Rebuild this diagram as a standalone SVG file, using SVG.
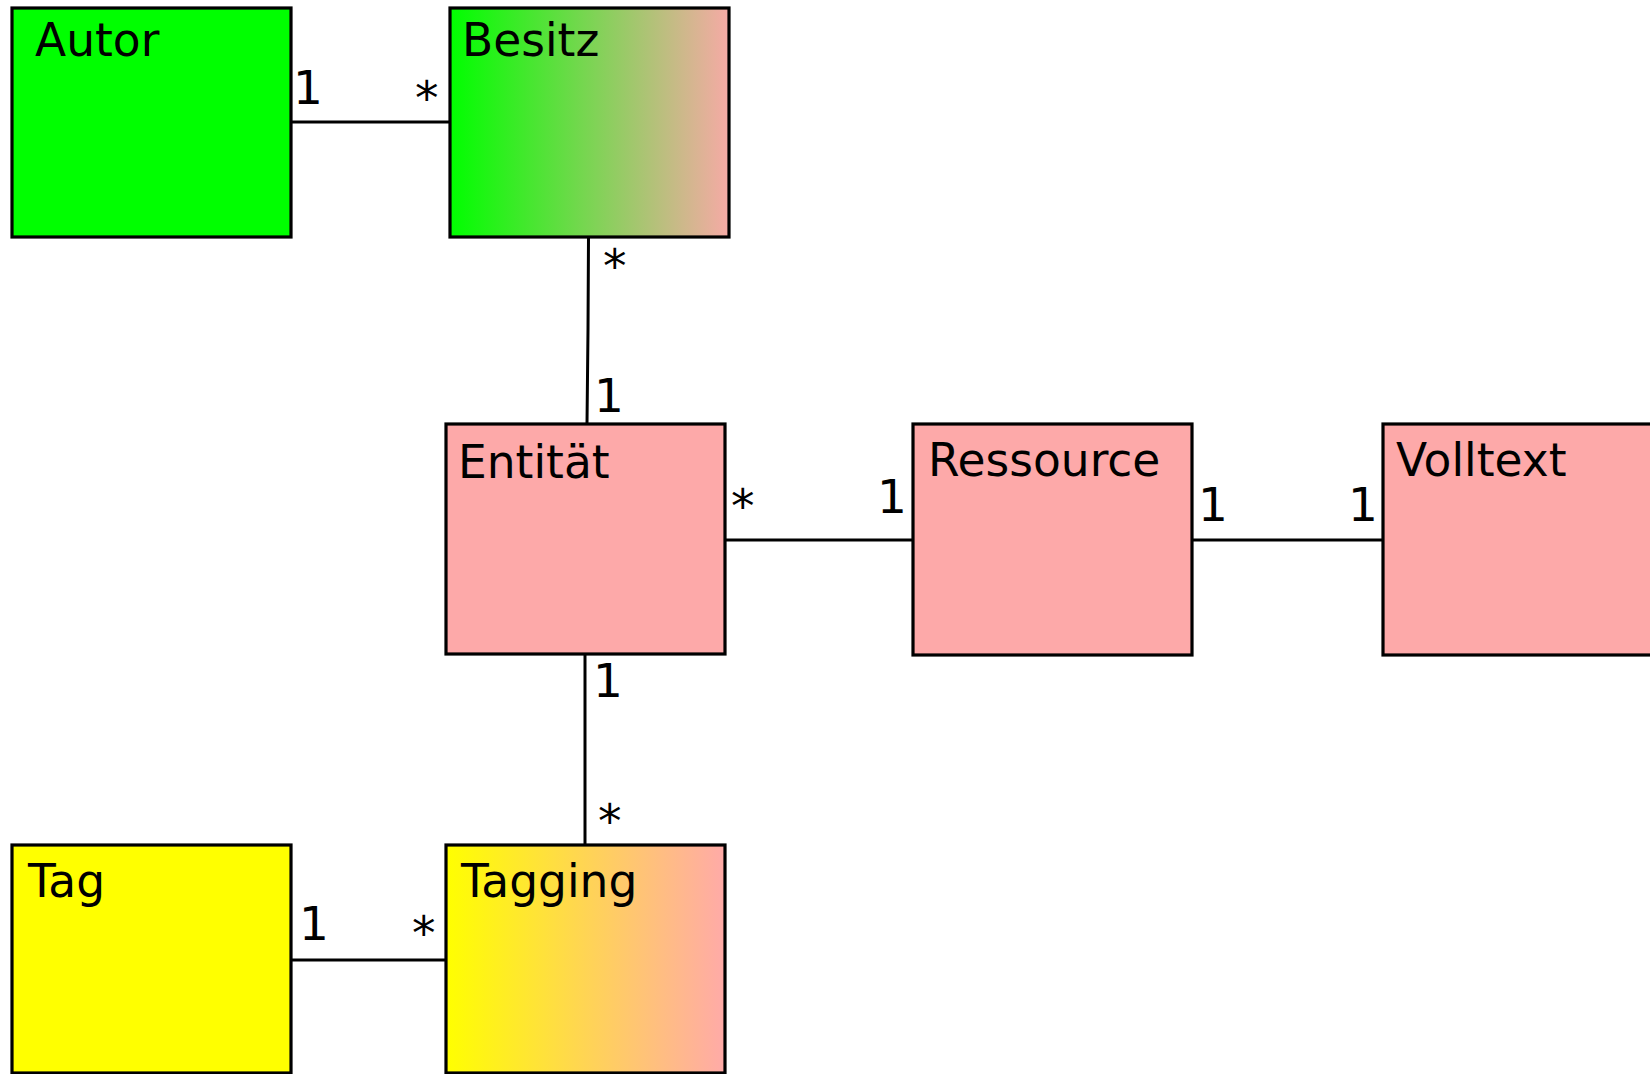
<svg xmlns="http://www.w3.org/2000/svg" width="1650" height="1074" viewBox="0 0 1650 1074">
  <defs>
    <linearGradient id="gBesitz" x1="0" y1="0" x2="1" y2="0">
      <stop offset="0" stop-color="#00ff00"/>
      <stop offset="1" stop-color="#f6aaa6"/>
    </linearGradient>
    <linearGradient id="gTagging" x1="0" y1="0" x2="1" y2="0">
      <stop offset="0" stop-color="#ffff00"/>
      <stop offset="1" stop-color="#ffaaa8"/>
    </linearGradient>
  </defs>
  <style>
    .box { stroke: #000; stroke-width: 3.2; }
    .name { font-family: "DejaVu Sans", sans-serif; font-size: 45.5px; fill: #000; }
    .mult { font-family: "DejaVu Sans", sans-serif; font-size: 47px; fill: #000; }
    .conn { stroke: #000; stroke-width: 3; fill: none; }
  </style>
  <rect width="1650" height="1074" fill="#fff"/>

  <g id="connectors">
    <line class="conn" x1="291" y1="122" x2="450" y2="122"/>
    <polyline class="conn" points="588.5,237 588,330 587,424"/>
    <line class="conn" x1="725" y1="540" x2="913" y2="540"/>
    <line class="conn" x1="1192" y1="540" x2="1383" y2="540"/>
    <line class="conn" x1="585" y1="654" x2="585" y2="845"/>
    <line class="conn" x1="291" y1="960" x2="446" y2="960"/>
  </g>

  <g id="autor">
    <rect class="box" x="12" y="8" width="279" height="229" fill="#00ff00"/>
    <text class="name" x="35" y="56">Autor</text>
  </g>
  <g id="besitz">
    <rect class="box" x="450" y="8" width="279" height="229" fill="url(#gBesitz)"/>
    <text class="name" x="462" y="56">Besitz</text>
  </g>
  <g id="entitaet">
    <rect class="box" x="446" y="424" width="279" height="230" fill="#fda9a9"/>
    <text class="name" x="458" y="478">Entität</text>
  </g>
  <g id="ressource">
    <rect class="box" x="913" y="424" width="279" height="231" fill="#fda9a9"/>
    <text class="name" x="928" y="476">Ressource</text>
  </g>
  <g id="volltext">
    <rect class="box" x="1383" y="424" width="300" height="231" fill="#fda9a9"/>
    <text class="name" x="1396" y="476">Volltext</text>
  </g>
  <g id="tag">
    <rect class="box" x="12" y="845" width="279" height="228" fill="#ffff00"/>
    <text class="name" x="28" y="897">Tag</text>
  </g>
  <g id="tagging">
    <rect class="box" x="446" y="845" width="279" height="228" fill="url(#gTagging)"/>
    <text class="name" x="461" y="897">Tagging</text>
  </g>

  <g id="multiplicities">
    <text class="mult" x="293" y="104">1</text>
    <text class="mult" x="415" y="114">*</text>
    <text class="mult" x="603" y="282">*</text>
    <text class="mult" x="594" y="412">1</text>
    <text class="mult" x="731" y="522">*</text>
    <text class="mult" x="877" y="513">1</text>
    <text class="mult" x="1198" y="521">1</text>
    <text class="mult" x="1348" y="521">1</text>
    <text class="mult" x="593" y="697">1</text>
    <text class="mult" x="598" y="837">*</text>
    <text class="mult" x="299" y="940">1</text>
    <text class="mult" x="412" y="949">*</text>
  </g>
</svg>
